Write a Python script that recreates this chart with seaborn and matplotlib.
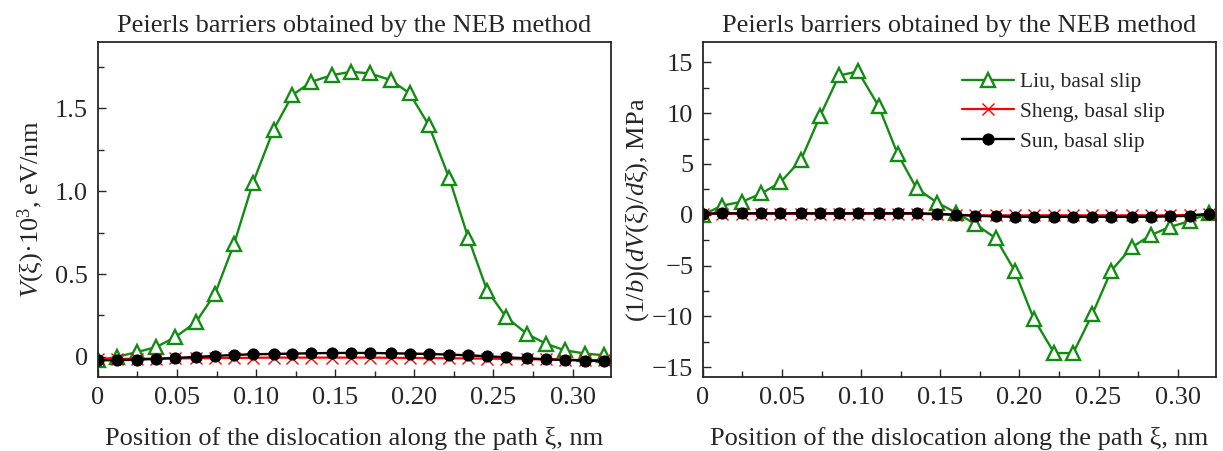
import numpy as np
import pandas as pd
import seaborn as sns
import matplotlib
matplotlib.use('Agg')
import matplotlib.pyplot as plt
from matplotlib.ticker import MultipleLocator, FixedLocator, FuncFormatter

# Position along the path, nm (27 NEB images)
xi = [0.000, 0.012, 0.025, 0.037, 0.049, 0.062, 0.074, 0.086, 0.098, 0.111,
      0.123, 0.135, 0.148, 0.160, 0.172, 0.185, 0.197, 0.209, 0.222, 0.234,
      0.246, 0.258, 0.271, 0.283, 0.295, 0.308, 0.320]

# Left panel: V(xi)*10^3, eV/nm
liu_V = [-0.02, 0.00, 0.03, 0.06, 0.12, 0.21, 0.38, 0.68, 1.05, 1.37,
         1.58, 1.66, 1.70, 1.72, 1.71, 1.67, 1.59, 1.40, 1.08, 0.72,
         0.40, 0.24, 0.14, 0.08, 0.04, 0.02, 0.01]
sheng_V = [-0.012, -0.012, -0.011, -0.010, -0.009, -0.008, -0.007, -0.006, -0.005, -0.004,
           -0.004, -0.004, -0.004, -0.004, -0.004, -0.005, -0.006, -0.007, -0.008, -0.009,
           -0.010, -0.012, -0.014, -0.015, -0.017, -0.019, -0.020]
sun_V = [-0.020, -0.020, -0.016, -0.012, -0.006, 0.000, 0.006, 0.012, 0.016, 0.018,
         0.020, 0.022, 0.024, 0.024, 0.024, 0.022, 0.020, 0.018, 0.014, 0.010,
         0.004, -0.002, -0.008, -0.014, -0.018, -0.022, -0.024]

# Right panel: (1/b)(dV/dxi), MPa
liu_S = [0.0, 0.9, 1.3, 2.1, 3.2, 5.4, 9.7, 13.7, 14.1, 10.7,
         6.0, 2.6, 1.2, 0.2, -0.9, -2.3, -5.5, -10.2, -13.6, -13.6,
         -9.8, -5.5, -3.2, -2.0, -1.2, -0.6, 0.2]
sheng_S = [0.10, 0.10, 0.10, 0.10, 0.10, 0.10, 0.10, 0.10, 0.10, 0.10,
           0.10, 0.10, 0.05, 0.00, -0.05, -0.05, -0.05, -0.05, -0.05, -0.05,
           -0.05, -0.05, -0.05, -0.05, -0.05, 0.00, 0.05]
sun_S = [0.10, 0.15, 0.15, 0.15, 0.15, 0.15, 0.15, 0.15, 0.15, 0.15,
         0.15, 0.15, 0.10, 0.00, -0.10, -0.15, -0.20, -0.20, -0.20, -0.20,
         -0.20, -0.20, -0.20, -0.20, -0.15, -0.10, 0.10]

series = ['Liu, basal slip', 'Sheng, basal slip', 'Sun, basal slip']

sns.set_style('ticks')
plt.rcParams['font.family'] = ['Liberation Serif', 'DejaVu Serif']
plt.rcParams['mathtext.fontset'] = 'custom'
plt.rcParams['mathtext.rm'] = 'Liberation Serif'
plt.rcParams['mathtext.it'] = 'Liberation Serif:italic'
plt.rcParams['axes.unicode_minus'] = True

FS = 19

fig, axes = plt.subplots(1, 2, figsize=(12.23, 4.51), dpi=100)
fig.subplots_adjust(left=0.080, right=0.994, top=0.907, bottom=0.163, wspace=0.18)

styles = [
    dict(color='#148c14', marker='^', ms=9.5, mfc='white', mec='#148c14', mew=1.7, lw=1.7),
    dict(color='red', marker='x', ms=9, mfc='red', mec='red', mew=1.0, lw=1.6),
    dict(color='black', marker='o', ms=8, mfc='black', mec='black', lw=1.7),
]

def draw(ax, ys):
    for name, y, st in zip(series, ys, styles):
        sns.lineplot(x=xi, y=y, ax=ax, label=name, **st)
    ax.set_xlim(0, 0.324)
    ax.xaxis.set_major_locator(FixedLocator([0, 0.05, 0.10, 0.15, 0.20, 0.25, 0.30]))
    ax.xaxis.set_minor_locator(MultipleLocator(0.025))
    ax.xaxis.set_major_formatter(FuncFormatter(lambda v, p: '0' if abs(v) < 1e-9 else f'{v:.2f}'))
    ax.tick_params(which='both', direction='in', labelsize=FS, top=False, right=False)
    ax.tick_params(which='major', length=6, width=1.0, pad=7)
    ax.tick_params(which='minor', length=4, width=1.0)
    for s in ax.spines.values():
        s.set_linewidth(1.3)
        s.set_visible(True)
    ax.set_title('Peierls barriers obtained by the NEB method', fontsize=FS, pad=7)
    ax.set_xlabel('Position of the dislocation along the path ξ, nm', fontsize=FS, labelpad=13)

ax = axes[0]
draw(ax, [liu_V, sheng_V, sun_V])
ax.set_ylim(-0.124, 1.9)
ax.yaxis.set_major_locator(FixedLocator([0, 0.5, 1.0, 1.5]))
ax.yaxis.set_minor_locator(MultipleLocator(0.25))
ax.yaxis.set_major_formatter(FuncFormatter(lambda v, p: '0' if abs(v) < 1e-9 else f'{v:.1f}'))
ax.set_ylabel(r'$\mathit{V}$(ξ)·10$^3$, eV/nm', fontsize=FS, labelpad=6)
ax.get_legend().remove()

ax = axes[1]
draw(ax, [liu_S, sheng_S, sun_S])
ax.set_ylim(-16, 17)
ax.yaxis.set_major_locator(MultipleLocator(5))
ax.yaxis.set_minor_locator(MultipleLocator(2.5))
ax.yaxis.set_major_formatter(FuncFormatter(lambda v, p: f'{int(round(v))}'.replace('-', '\u2212')))
ax.set_ylabel(r'(1/$\mathit{b}$)($\mathit{dV}$(ξ)/$\mathit{d}$ξ), MPa', fontsize=FS, labelpad=1)
ax.legend(loc='upper left', bbox_to_anchor=(0.505, 0.91), frameon=False, fontsize=15.5,
          numpoints=1, handlelength=2.4, handletextpad=0.3, labelspacing=0.45,
          borderaxespad=0, borderpad=0)

fig.savefig('out.png', dpi=100)
